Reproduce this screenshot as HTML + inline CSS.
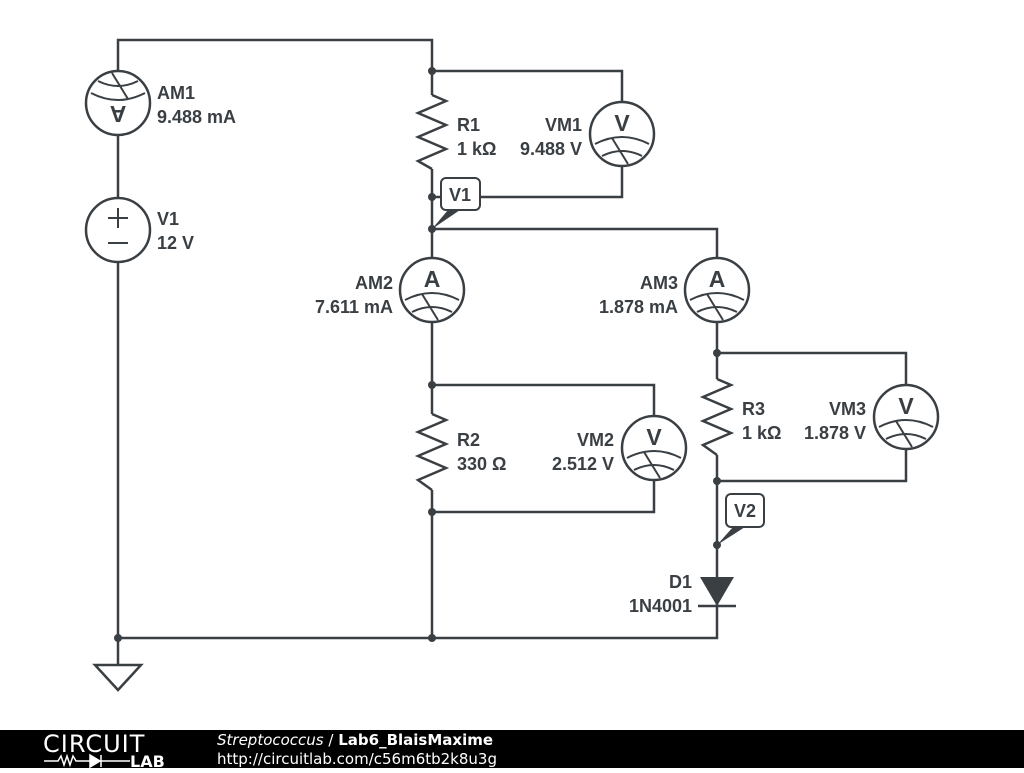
<!DOCTYPE html>
<html><head><style>
body{margin:0;width:1024px;height:768px;background:#fff;overflow:hidden}
text{font-family:"Liberation Sans",sans-serif;font-weight:bold;font-size:18px;fill:#3a3f44}
</style></head><body>
<svg width="1024" height="768" viewBox="0 0 1024 768">
<defs>
<g id="m">
<circle r="32" fill="#fff" stroke="#3a3f44" stroke-width="2.5"/>
<path d="M-27,10 Q0,-4 27,10 M-20,22 Q0,12 20,22 M-10,4 L6,30" fill="none" stroke="#3a3f44" stroke-width="2"/>
</g>
</defs>
<g stroke="#3a3f44" stroke-width="2.5" fill="none">
<path d="M118,638 V40 H432 V638 M118,638 H717 V229 H432"/>
<path d="M432,71 H622 V197 H432"/>
<path d="M432,385 H654 V512 H432"/>
<path d="M717,353 H906 V481 H717"/>
<path d="M118,638 V665"/>
<path d="M95,665 H141 L118,690 Z"/>
</g>
<g fill="#fff">
<rect x="415" y="95" width="34" height="74"/>
<rect x="415" y="414" width="34" height="76"/>
<rect x="700" y="379" width="34" height="76"/>
</g>
<g stroke="#3a3f44" stroke-width="2.5" fill="none">
<path d="M432,95 L446,101 L418,113 L446,125 L418,137 L446,149 L418,161 L432,169"/>
<path d="M432,414 L446,420 L418,432 L446,444 L418,456 L446,468 L418,480 L432,490"/>
<path d="M717,379 L731,385 L703,397 L731,409 L703,421 L731,433 L703,445 L717,455"/>
</g>
<g transform="translate(118,103) rotate(180)"><use href="#m"/><text x="0" y="-3" text-anchor="middle" style="font-size:23px">A</text></g>
<g transform="translate(432,290)"><use href="#m"/><text x="0" y="-3" text-anchor="middle" style="font-size:23px">A</text></g>
<g transform="translate(717,290)"><use href="#m"/><text x="0" y="-3" text-anchor="middle" style="font-size:23px">A</text></g>
<g transform="translate(622,134)"><use href="#m"/><text x="0" y="-3" text-anchor="middle" style="font-size:23px">V</text></g>
<g transform="translate(654,448)"><use href="#m"/><text x="0" y="-3" text-anchor="middle" style="font-size:23px">V</text></g>
<g transform="translate(906,417)"><use href="#m"/><text x="0" y="-3" text-anchor="middle" style="font-size:23px">V</text></g>
<circle cx="118" cy="230" r="32" fill="#fff" stroke="#3a3f44" stroke-width="2.5"/>
<path d="M108,218 H128 M118,208 V228 M108,243 H128" stroke="#3a3f44" stroke-width="2"/>
<path d="M700,577 H734 L717,606 Z" fill="#3a3f44"/>
<path d="M698,606 H736" stroke="#3a3f44" stroke-width="2.5"/>
<g fill="#3a3f44">
<circle cx="432" cy="71" r="4"/><circle cx="432" cy="197" r="4"/><circle cx="432" cy="229" r="4"/>
<circle cx="432" cy="385" r="4"/><circle cx="432" cy="512" r="4"/><circle cx="432" cy="638" r="4"/>
<circle cx="118" cy="638" r="4"/><circle cx="717" cy="353" r="4"/><circle cx="717" cy="481" r="4"/>
<circle cx="717" cy="545" r="4"/>
</g>
<path d="M432,229 L448,210 L460,210 Z" fill="#3a3f44"/>
<rect x="441" y="178" width="39" height="32" rx="5" fill="#fff" stroke="#3a3f44" stroke-width="2"/>
<text x="460" y="201" text-anchor="middle">V1</text>
<path d="M717,545 L733,527 L745,527 Z" fill="#3a3f44"/>
<rect x="726" y="494" width="38" height="33" rx="5" fill="#fff" stroke="#3a3f44" stroke-width="2"/>
<text x="745" y="517" text-anchor="middle">V2</text>
<text x="157" y="99">AM1</text><text x="157" y="123">9.488 mA</text>
<text x="157" y="225">V1</text><text x="157" y="249">12 V</text>
<text x="457" y="131">R1</text><text x="457" y="155">1 kΩ</text>
<text x="582" y="131" text-anchor="end">VM1</text><text x="582" y="155" text-anchor="end">9.488 V</text>
<text x="393" y="289" text-anchor="end">AM2</text><text x="393" y="313" text-anchor="end">7.611 mA</text>
<text x="678" y="289" text-anchor="end">AM3</text><text x="678" y="313" text-anchor="end">1.878 mA</text>
<text x="457" y="446">R2</text><text x="457" y="470">330 Ω</text>
<text x="614" y="446" text-anchor="end">VM2</text><text x="614" y="470" text-anchor="end">2.512 V</text>
<text x="742" y="415">R3</text><text x="742" y="439">1 kΩ</text>
<text x="866" y="415" text-anchor="end">VM3</text><text x="866" y="439" text-anchor="end">1.878 V</text>
<text x="692" y="588" text-anchor="end">D1</text><text x="692" y="612" text-anchor="end">1N4001</text>
<rect x="0" y="730" width="1024" height="38" fill="#000"/>
<text x="43" y="752" style="font-size:24px;font-weight:normal;fill:#fff;letter-spacing:1px;font-family:'DejaVu Sans',sans-serif">CIRCUIT</text>
<path d="M44,761 H58 L61,756 L64,765 L67,756 L70,765 L73,756 L76,761 H90" stroke="#fff" stroke-width="1.5" fill="none"/>
<path d="M90,755 L100,761 L90,767 Z M101,755 V767 M101,761 H130" fill="#fff" stroke="#fff" stroke-width="1.5"/>
<text x="130" y="767" style="font-size:16px;fill:#fff;font-family:'DejaVu Sans',sans-serif">LAB</text>
<text x="217" y="745" style="font-size:15px;font-weight:normal;fill:#fff;font-family:'DejaVu Sans',sans-serif"><tspan font-style="italic">Streptococcus</tspan> / <tspan font-weight="bold">Lab6_BlaisMaxime</tspan></text>
<text x="217" y="764" style="font-size:15px;font-weight:normal;fill:#fff;font-family:'DejaVu Sans',sans-serif">http://circuitlab.com/c56m6tb2k8u3g</text>
</svg>
</body></html>
